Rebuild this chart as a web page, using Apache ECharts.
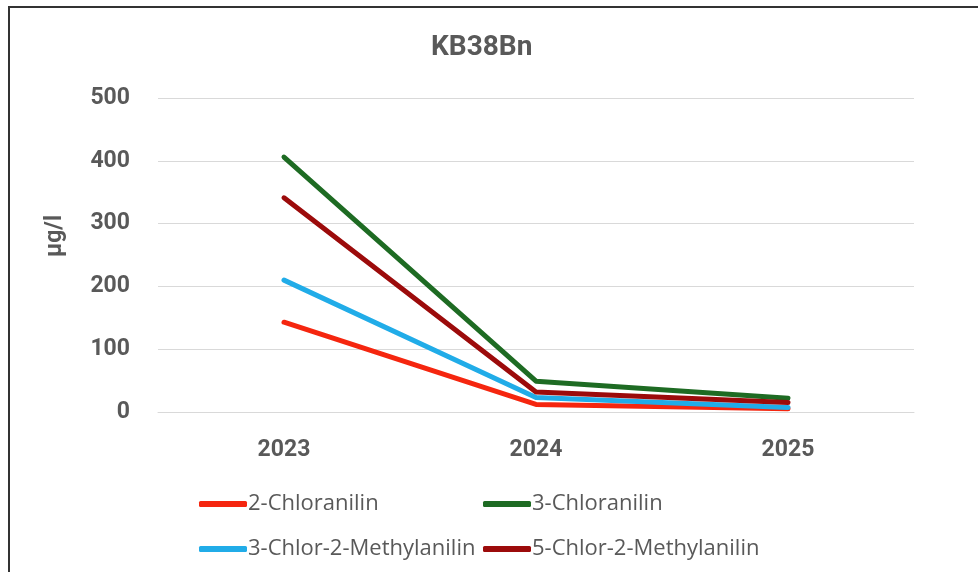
<!DOCTYPE html>
<html><head><meta charset="utf-8">
<script src="https://cdn.jsdelivr.net/npm/echarts@6/dist/echarts.min.js"></script>
<style>html,body{margin:0;padding:0;background:#fff}#c{width:978px;height:572px}</style>
</head><body><div id="c"></div>
<script>
const years = ['2023', '2024', '2025'];
const chloranilin2 = [143, 12, 5];
const chloranilin3 = [406, 49, 22];
const chlorMethyl3 = [210, 23, 7];
const chlorMethyl5 = [341, 32, 15];
const yTicks = [0, 100, 200, 300, 400, 500];

const names = ['2-Chloranilin', '3-Chloranilin', '3-Chlor-2-Methylanilin', '5-Chlor-2-Methylanilin'];
const colors = ['#F5260F', '#1E6B23', '#21ACE8', '#9C0B0B'];
const datas = [chloranilin2, chloranilin3, chlorMethyl3, chlorMethyl5];
const legendPos = [[199, 493], [483, 493], [199, 538], [483, 538]];

const chart = echarts.init(document.getElementById('c'));
chart.setOption({
  animation: false,
  backgroundColor: '#fff',
  title: {
    text: 'KB38Bn', left: 426, top: 29,
    textStyle: { fontFamily: 'Roboto', fontWeight: 'bold', fontSize: 28, color: '#595959' }
  },
  graphic: [{
    type: 'rect', shape: { x: 9, y: 7, width: 1000, height: 600 },
    style: { fill: 'none', stroke: '#333', lineWidth: 2 }, silent: true, z: -1
  }, {
    type: 'text', x: 55, y: 236, rotation: Math.PI / 2,
    style: { text: 'µg/l', fontFamily: 'Roboto', fontWeight: 'bold', fontSize: 23, fill: '#595959', align: 'center', verticalAlign: 'middle' }
  }],
  legend: names.map((n, i) => ({
    data: [n], left: legendPos[i][0], top: legendPos[i][1],
    icon: 'roundRect', itemWidth: 48, itemHeight: 6, itemGap: 0, padding: 0,
    textStyle: { fontFamily: 'Open Sans', fontSize: 22, color: '#595959', padding: [0, 0, 0, -4] }
  })),
  grid: { left: 158, right: 64, top: 98, bottom: 160 },
  xAxis: {
    type: 'category', data: years, boundaryGap: true,
    axisLine: { show: true, lineStyle: { color: '#d9d9d9', width: 1 } },
    axisTick: { show: false },
    axisLabel: { fontFamily: 'Roboto', fontWeight: 'bold', fontSize: 23, color: '#595959', margin: 27 }
  },
  yAxis: {
    type: 'value', min: yTicks[0], max: yTicks[yTicks.length - 1], interval: 100,
    axisLine: { show: false }, axisTick: { show: false },
    splitLine: { lineStyle: { color: '#d9d9d9', width: 1 } },
    axisLabel: { fontFamily: 'Roboto', fontWeight: 'bold', fontSize: 23, color: '#595959', margin: 28 }
  },
  series: names.map((n, i) => ({
    name: n, type: 'line', data: datas[i], symbol: 'none',
    lineStyle: { color: colors[i], width: 5, cap: 'round', join: 'round' },
    itemStyle: { color: colors[i] }
  }))
});
</script></body></html>
